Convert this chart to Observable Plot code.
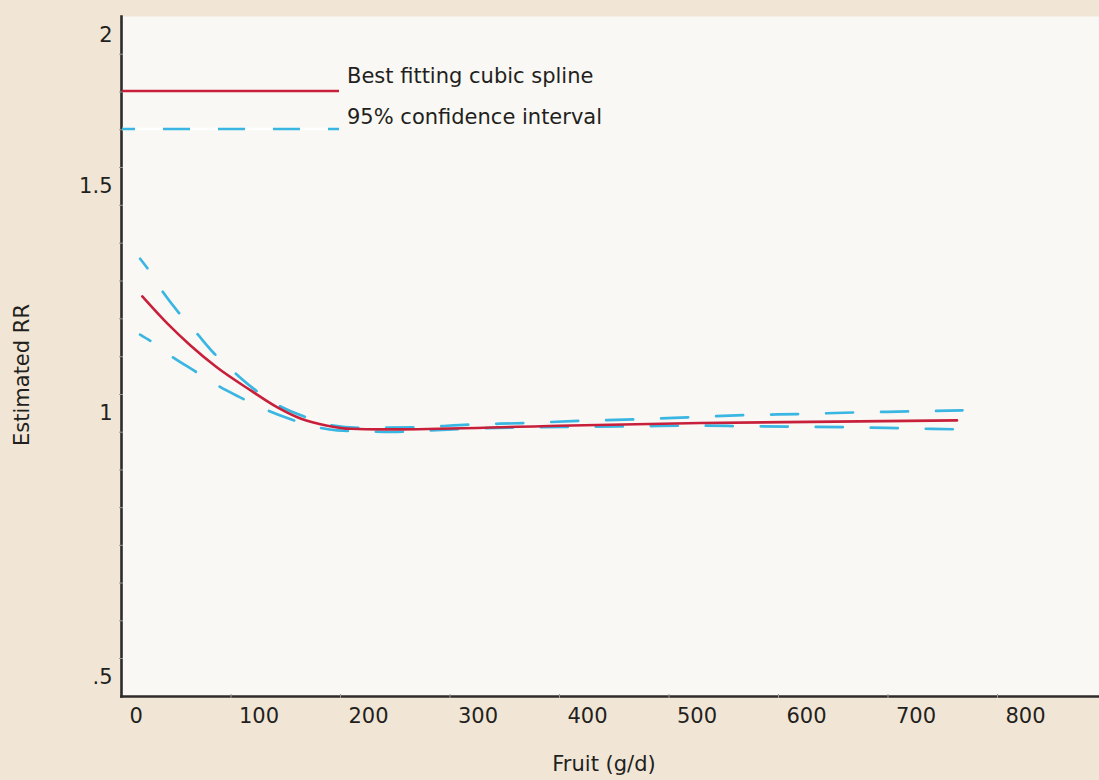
<!DOCTYPE html>
<html>
<head>
<meta charset="utf-8">
<script src="https://cdn.jsdelivr.net/npm/d3@7"></script>
<script src="https://cdn.jsdelivr.net/npm/@observablehq/plot@0.6"></script>
<style>
  html, body { margin: 0; padding: 0; background: #f1e6d6; }
  #chart { width: 1099px; height: 780px; }
</style>
</head>
<body>
<div id="chart"></div>
<script>
// ---- Data ----
const splineX  = [19, 42, 63, 87, 118, 142, 164, 188, 209, 237, 255, 383, 529, 763];
const splineRR = [1.216, 1.156, 1.108, 1.060, 1.009, 0.976, 0.954, 0.941, 0.935, 0.934, 0.934, 0.940, 0.946, 0.951];

const upperX  = [17, 24, 38, 52, 69, 84, 103, 120, 142, 167, 191, 218, 267, 319, 368, 419, 469, 520, 570, 620, 670, 721, 768];
const upperRR = [1.299, 1.277, 1.225, 1.181, 1.134, 1.092, 1.049, 1.014, 0.981, 0.958, 0.942, 0.937, 0.938, 0.943, 0.946, 0.950, 0.953, 0.957, 0.961, 0.963, 0.966, 0.968, 0.970];

const lowerX  = [17, 27, 47, 66, 87, 107, 130, 152, 175, 197, 223, 246, 282, 330, 378, 427, 474, 522, 570, 618, 666, 714, 763];
const lowerRR = [1.132, 1.117, 1.082, 1.053, 1.021, 0.996, 0.973, 0.955, 0.940, 0.932, 0.930, 0.929, 0.932, 0.936, 0.938, 0.939, 0.940, 0.941, 0.940, 0.939, 0.938, 0.936, 0.934];

const xTicks = [0, 100, 200, 300, 400, 500, 600, 700, 800];
const yTicks = [0.5, 1, 1.5, 2];
const yTickLabels = [".5", "1", "1.5", "2"];
// faint minor tick marks along the value axis
const yMinorTicks = [1.875, 1.75, 1.625, 1.5, 1.4167, 1.3333, 1.25, 1.1667, 1.0833, 1, 0.9286, 0.8571, 0.7857, 0.7143, 0.6429, 0.5714, 0.5];
const xMinorTicks = [100, 200, 300, 400, 500, 600, 700, 800];

const legendLabels = ["Best fitting cubic spline", "95% confidence interval"];
const xTitle = "Fruit (g/d)";
const yTitle = "Estimated RR";

// ---- Styling ----
const RED = "#c8203a";
const BLUE = "#3ab6e2";
const INK = "#231f20";
const AXIS = "#2e2b2a";

const toRows = (xs, ys) => xs.map((x, i) => ({x, rr: ys[i]}));

const plot = Plot.plot({
  width: 1099,
  height: 780,
  marginLeft: 121,
  marginRight: 0,
  marginTop: 16,
  marginBottom: 84,
  style: {background: "#f1e6d6", fontFamily: "'DejaVu Sans', sans-serif", fontSize: "21px", color: INK},
  x: {domain: [0, 800], range: [121, 997]},
  y: {type: "linear", domain: [0.5, 1, 1.5, 2], range: [658, 394, 167, 16]},
  marks: [
    Plot.frame({fill: "#f9f8f4", stroke: null}),
    Plot.line(toRows(upperX, upperRR), {x: "x", y: "rr", stroke: BLUE, strokeWidth: 2.7, strokeDasharray: "27,28", strokeDashoffset: 15, curve: "monotone-x"}),
    Plot.line(toRows(lowerX, lowerRR), {x: "x", y: "rr", stroke: BLUE, strokeWidth: 2.7, strokeDasharray: "27,28", strokeDashoffset: 15, curve: "monotone-x"}),
    Plot.line(toRows(splineX, splineRR), {x: "x", y: "rr", stroke: RED, strokeWidth: 2.6, curve: "monotone-x"}),
    Plot.frame({anchor: "left", stroke: AXIS, strokeWidth: 2.6}),
    Plot.frame({anchor: "bottom", stroke: AXIS, strokeWidth: 2.6}),
    Plot.axisY(yMinorTicks, {tickSize: 4, dx: 2, tickFormat: () => "", stroke: "#9a9a9a", strokeWidth: 1, label: null}),
    Plot.axisX(xMinorTicks, {tickSize: 4, dy: -2, tickFormat: () => "", stroke: "#9a9a9a", strokeWidth: 1, label: null}),
    Plot.axisY(yTicks, {tickSize: 0, tickPadding: 9, dy: 19, tickFormat: d => yTickLabels[yTicks.indexOf(d)], fill: INK, label: null}),
    Plot.axisX(xTicks, {tickSize: 0, tickPadding: 12, textAnchor: "start", dx: 8, fill: INK, label: null})
  ]
});

// ---- Legend and axis titles (annotations) ----
const svg = d3.select(plot);
const g = svg.append("g");
g.append("line").attr("x1", 122).attr("x2", 339).attr("y1", 91).attr("y2", 91)
  .attr("stroke", RED).attr("stroke-width", 2.6);
g.append("line").attr("x1", 122).attr("x2", 339).attr("y1", 129).attr("y2", 129)
  .attr("stroke", "#ffffff").attr("stroke-width", 2.6);
g.append("line").attr("x1", 122).attr("x2", 339).attr("y1", 129).attr("y2", 129)
  .attr("stroke", BLUE).attr("stroke-width", 2.6).attr("stroke-dasharray", "27,28").attr("stroke-dashoffset", 14);
g.append("text").attr("x", 347).attr("y", 83).attr("text-anchor", "start").attr("fill", INK).attr("font-size", 21).text(legendLabels[0]);
g.append("text").attr("x", 347).attr("y", 124).attr("text-anchor", "start").attr("fill", INK).attr("font-size", 21).text(legendLabels[1]);

svg.append("text").attr("x", 604).attr("y", 771).attr("text-anchor", "middle")
  .attr("fill", INK).attr("font-size", 21).text(xTitle);
svg.append("text").attr("transform", "translate(29,375) rotate(-90)").attr("text-anchor", "middle")
  .attr("fill", INK).attr("font-size", 21).text(yTitle);

document.getElementById("chart").appendChild(plot);
</script>
</body>
</html>
